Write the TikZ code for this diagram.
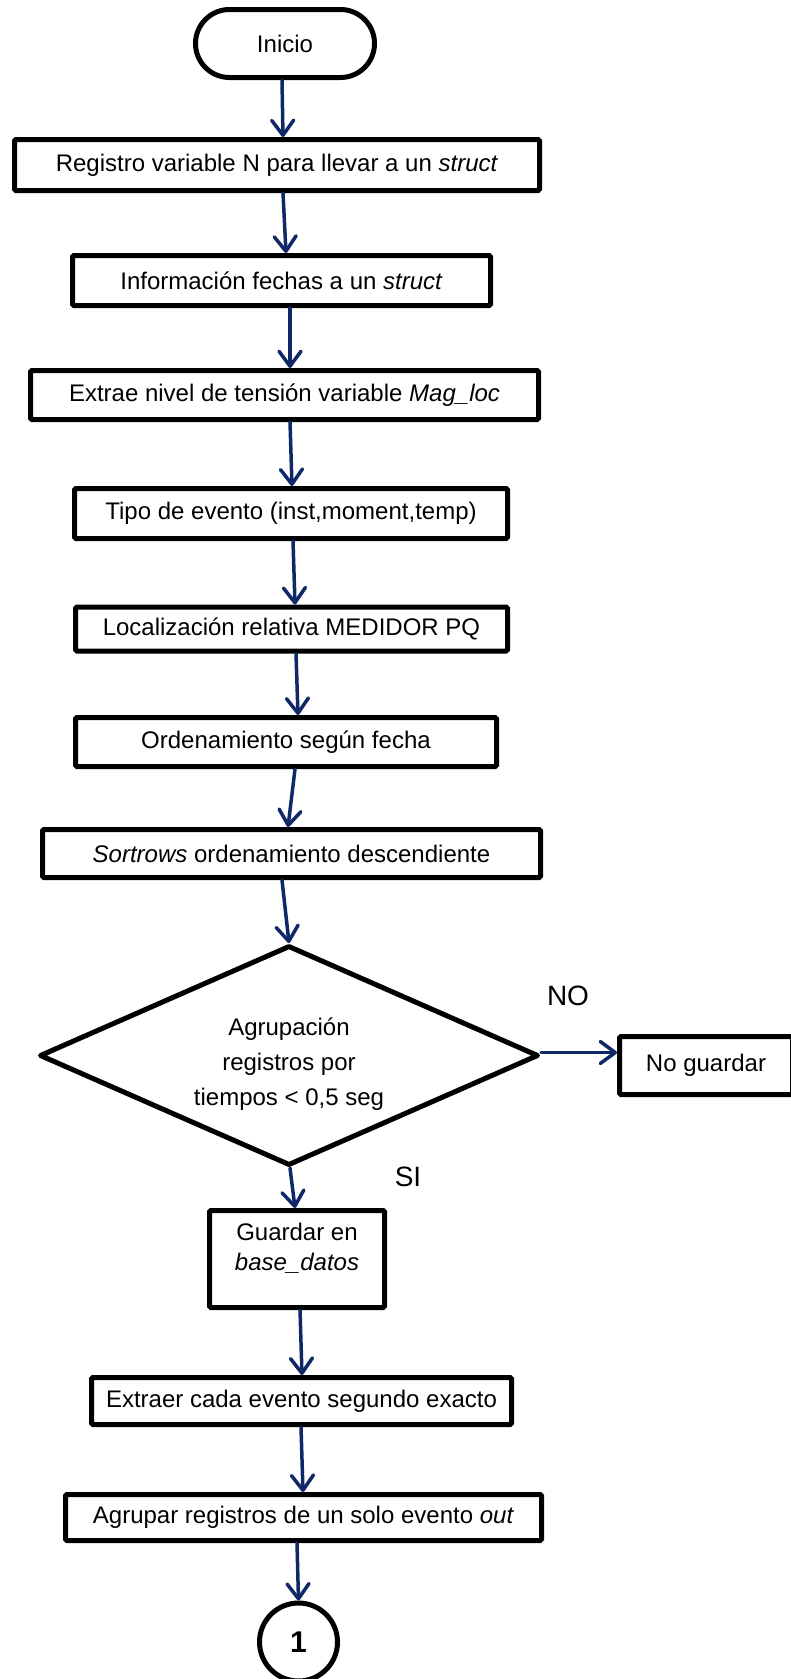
\documentclass[tikz,border=0pt]{standalone}
\usepackage{fontspec}
\setmainfont{Liberation Sans}
\usetikzlibrary{arrows.meta,shapes.geometric}
\definecolor{navy}{HTML}{102868}
\begin{document}
\begin{tikzpicture}[x=1pt,y=-1pt,
  box/.style={draw=black,line width=5pt,rounded corners=1.5pt,inner sep=0pt,
    font=\fontsize{24}{30}\selectfont,align=center},
  term/.style={box,rounded corners=34pt},
  dec/.style={draw=black,line width=5pt,line join=round,diamond,shape aspect=2.27,inner sep=0pt,
    font=\fontsize{24}{35}\selectfont,align=center},
  conn/.style={draw=black,line width=5pt,circle,inner sep=0pt,
    font=\fontsize{30}{30}\selectfont\bfseries},
  arr/.style={draw=navy,line width=3.5pt,line cap=round,
    -{Straight Barb[length=15pt,width=22pt,line cap=round,line join=round]}},
  lbl/.style={font=\fontsize{28}{28}\selectfont,inner sep=0pt}]
\useasboundingbox (0,0) rectangle (791,1679);
\node[term,minimum width=179pt,minimum height=68pt] (ini) at (285,43.5) {Inicio};
\node[box,minimum width=525pt,minimum height=51pt] (b1) at (277,165) {Registro variable N para llevar a un \textit{struct}};
\node[box,minimum width=418pt,minimum height=50pt] (b2) at (281.5,280.5) {Información fechas a un \textit{struct}};
\node[box,minimum width=508pt,minimum height=49pt] (b3) at (284.5,395) {Extrae nivel de tensión variable \textit{Mag\_loc}};
\node[box,minimum width=433pt,minimum height=50pt] (b4) at (291,513.5) {Tipo de evento (inst,moment,temp)};
\node[box,minimum width=432pt,minimum height=44pt] (b5) at (291.5,629) {Localización relativa MEDIDOR PQ};
\node[box,minimum width=421pt,minimum height=49pt] (b6) at (286,742) {Ordenamiento según fecha};
\node[box,minimum width=498pt,minimum height=48pt] (b7) at (291.5,853.5) {\textit{Sortrows} ordenamiento descendiente};
\node[dec,minimum width=499pt,minimum height=220pt,text height=104pt] (dec) at (289,1055.5) {Agrupación\\registros por\\tiempos < 0,5 seg};
\node[box,minimum width=173pt,minimum height=58pt] (nog) at (706,1065.5) {No guardar};
\node[box,minimum width=175pt,minimum height=97pt,text depth=24pt] (gua) at (297,1259) {Guardar en\\\textit{base\_datos}};
\node[box,minimum width=420pt,minimum height=47pt] (ext) at (301.5,1401) {Extraer cada evento segundo exacto};
\node[box,minimum width=476pt,minimum height=46pt] (agr) at (303.5,1517.5) {Agrupar registros de un solo evento \textit{out}};
\node[conn,minimum size=78pt] (c1) at (298.5,1642) {1};
\node[lbl] (no) at (568,996) {NO};
\node[lbl] (si) at (408,1177) {SI};
\draw[arr] ([xshift=-3pt]ini.south) -- ([xshift=6pt]b1.north);
\draw[arr] ([xshift=6pt]b1.south) -- ([xshift=4.5pt]b2.north);
\draw[arr] ([xshift=8.5pt]b2.south) -- ([xshift=5.5pt]b3.north);
\draw[arr] ([xshift=5.5pt]b3.south) -- ([xshift=1pt]b4.north);
\draw[arr] ([xshift=2pt]b4.south) -- ([xshift=3.5pt]b5.north);
\draw[arr] ([xshift=4.5pt]b5.south) -- ([xshift=12pt]b6.north);
\draw[arr] ([xshift=9pt]b6.south) -- ([xshift=-3.5pt]b7.north);
\draw[arr] ([xshift=-9.5pt]b7.south) -- (dec.north);
\draw[arr] ([xshift=1pt]dec.south) -- ([xshift=-2pt]gua.north);
\draw[arr] ([xshift=3pt]gua.south) -- ([xshift=0.5pt]ext.north);
\draw[arr] ([xshift=-0.5pt]ext.south) -- ([xshift=-0.5pt]agr.north);
\draw[arr] ([xshift=-6.5pt]agr.south) -- ([xshift=0pt]c1.north);
\draw[arr] ([yshift=3pt]dec.east) -- ([yshift=3pt]dec.east -| nog.west);
\end{tikzpicture}
\end{document}
